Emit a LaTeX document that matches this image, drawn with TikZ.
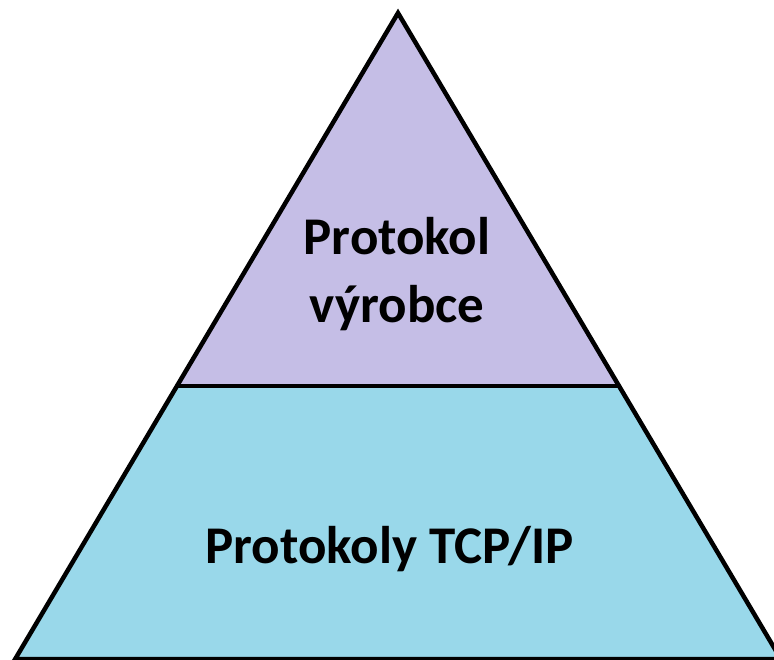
\documentclass[tikz,border=0pt]{standalone}
\usepackage{fontspec}
\setmainfont{Carlito}
\definecolor{vrchfill}{RGB}{197,190,230}
\definecolor{spodfill}{RGB}{153,216,234}
\tikzset{
  vrstva/.style={font=\fontsize{53}{68}\selectfont\bfseries, align=center, inner sep=0pt, anchor=base},
}
\begin{document}
\begin{tikzpicture}[x=1pt,y=-1pt]
  \useasboundingbox (0,0) rectangle (774,660);
  \clip (0,0) rectangle (774,660);
  % body pyramidy
  \coordinate (vrchol) at (398,13);
  \coordinate (levy) at (15.2,659);
  \coordinate (pravy) at (780.8,659);
  \coordinate (delL) at (177,386);
  \coordinate (delP) at (619,386);
  \fill[vrchfill] (vrchol) -- (delL) -- (delP) -- cycle;
  \fill[spodfill] (delL) -- (levy) -- (pravy) -- (delP) -- cycle;
  \draw[line width=4.5pt, line join=miter] (vrchol) -- (levy) -- (pravy) -- cycle;
  \draw[line width=4.5pt] (delL) -- (delP);
  % texty
  \node[vrstva] (vyrobce) at (397,323) {Protokol\\výrobce};
  \node[vrstva] (tcpip) at (389.5,563) {Protokoly TCP/IP};
\end{tikzpicture}
\end{document}
